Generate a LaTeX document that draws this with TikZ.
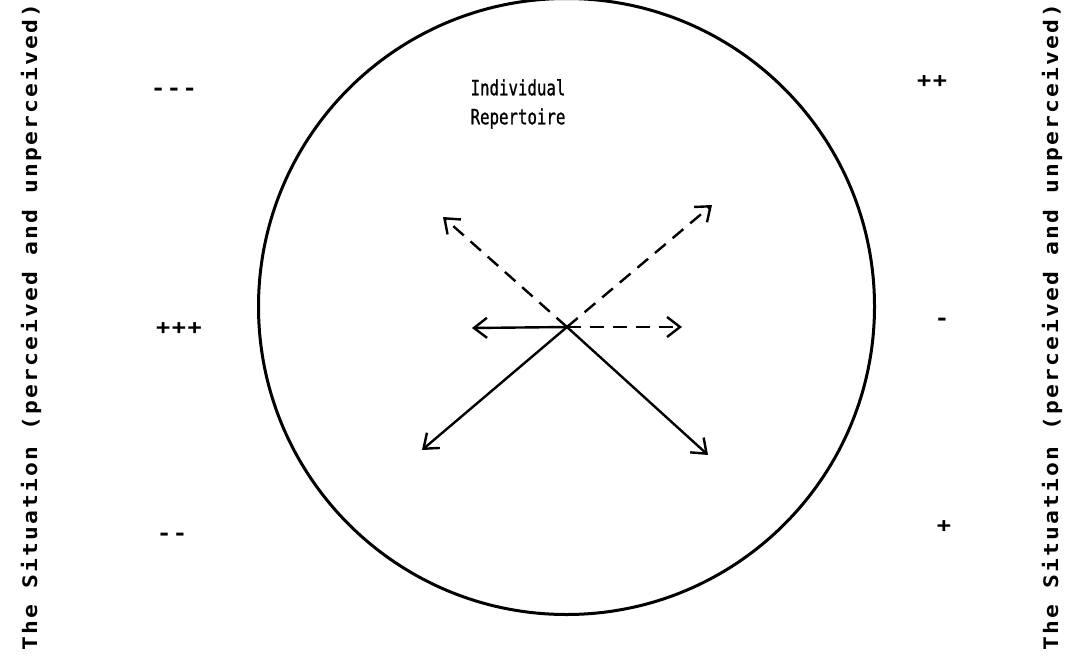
\documentclass[tikz,border=0pt]{standalone}
\usepackage{fontspec}
\usepackage{graphicx}
\usetikzlibrary{arrows.meta}
\newfontfamily\tw{DejaVu Sans Mono}[LetterSpace=11, FakeStretch=1.15]
\newfontfamily\tws{DejaVu Sans Mono}[LetterSpace=7.6, FakeStretch=1.15]
\newfontfamily\twc{DejaVu Sans Mono}[FakeBold=1.2]
\begin{document}
\begin{tikzpicture}[x=1pt,y=-1pt,
  ring/.style={draw, circle, line width=3pt, inner sep=0pt, minimum size=616pt},
  arr/.style={line width=2.4pt, -{Straight Barb[length=13pt,width=20pt,line width=2.4pt]}},
  dsh/.style={arr, dash pattern=on 14pt off 9pt},
  side/.style={font=\tw\bfseries\fontsize{20}{24}\selectfont, inner sep=0pt, rotate=90, anchor=base},
  sign/.style={font=\tws\bfseries\fontsize{20.5}{24}\selectfont, inner sep=0pt},
  title/.style={font=\twc\fontsize{21}{29}\selectfont, inner sep=0pt, align=center, anchor=north}]
\useasboundingbox (0,0) rectangle (1078,656);
\node[ring] (circ) at (566.5,306.5) {};
\node[title] (rep) at (518,79) {\scalebox{0.75}[1]{Individual}\\\scalebox{0.75}[1]{Repertoire}};
\node[side] (sl) at (37,327) {The Situation (perceived and unperceived)};
\node[side] (sr) at (1058,327) {The Situation (perceived and unperceived)};
\node[sign] (m3) at (174,92) {-{}-{}-};
\node[sign] (p3) at (179,329) {+++};
\node[sign] (m2) at (172,537) {-{}-};
\node[sign] (p2) at (932,82) {++};
\node[sign] (m1) at (942,322) {-};
\node[sign] (p1) at (944,527) {+};
\coordinate (o) at (567,327);
\coordinate (ul) at (443,217);
\coordinate (ur) at (712,205);
\coordinate (l) at (472,328);
\coordinate (r) at (682,327);
\coordinate (ll) at (422,450);
\coordinate (lr) at (708,455);
\draw[dsh] (o) -- (ul);
\draw[dsh] (o) -- (ur);
\draw[dsh] (o) -- (r);
\draw[arr] (o) -- (l);
\draw[arr] (o) -- (ll);
\draw[arr] (o) -- (lr);
\end{tikzpicture}
\end{document}
